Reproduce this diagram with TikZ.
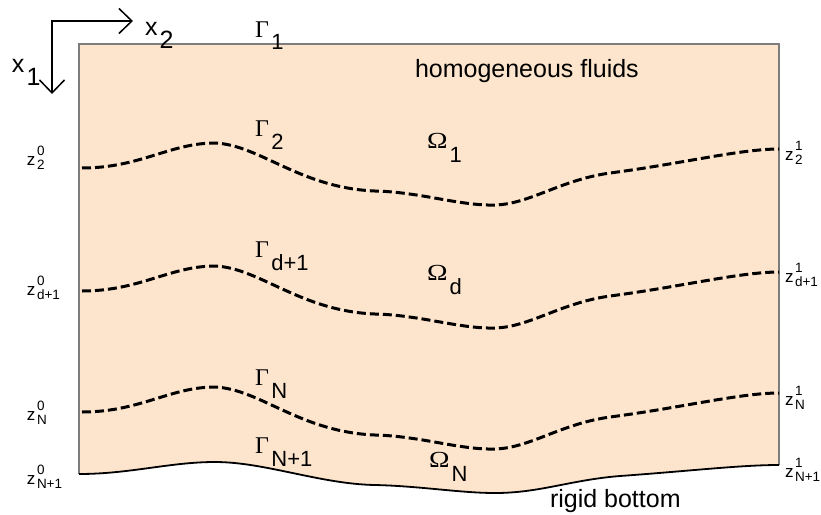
\documentclass[tikz,border=0pt]{standalone}
\usepackage{fontspec}
\setmainfont{Liberation Sans}
\newfontfamily\grfont{Liberation Serif}
\usetikzlibrary{arrows.meta}
\definecolor{fluid}{RGB}{253,229,205}
\definecolor{edgegray}{RGB}{125,125,125}
\newcommand\fsz[1]{\fontsize{#1}{#1}\selectfont}
% Gamma / Omega with subscript
\newcommand\gam[1]{{\fsz{24}\grfont Γ}\hspace{2.5pt}\raisebox{-13pt}{\fsz{22}#1}}
\newcommand\om[1]{\scalebox{1.2}[1]{\fsz{23}\grfont Ω}\hspace{2pt}\raisebox{-14pt}{\fsz{22}#1}}
% z labels
\newcommand\zl[2]{\fsz{17}z\fsz{13.5}\hspace{1.5pt}\rlap{\raisebox{10pt}{#1}}\raisebox{-4.5pt}{#2}}
\begin{document}
\begin{tikzpicture}[x=1pt,y=-1pt,
  lab/.style={anchor=base west, inner sep=0pt, outer sep=0pt},
  iface/.style={line width=3pt, dash pattern=on 9pt off 4pt, black},
  edgeline/.style={draw=edgegray, line width=1.4pt},
  axisline/.style={line width=1.5pt, black, line join=miter,
     {Straight Barb[length=13pt,width=25pt]}-{Straight Barb[length=13pt,width=25pt]}}]
\useasboundingbox (0,0) rectangle (821,514);

% fluid domain
\fill[fluid] (79,44) -- (79,474)
  .. controls (130,474) and (170,462) .. (215,462)
  .. controls (265,462) and (320,484) .. (375,485)
  .. controls (420,486) and (460,493) .. (495,493)
  .. controls (540,493) and (570,480) .. (620,476)
  .. controls (690,471) and (740,465) .. (779,465)
  -- (779,44) -- cycle;
\draw[edgeline] (79,474) -- (79,44) -- (779,44) -- (779,465);
\draw[line width=1.8pt] (79,474)
  .. controls (130,474) and (170,462) .. (215,462)
  .. controls (265,462) and (320,484) .. (375,485)
  .. controls (420,486) and (460,493) .. (495,493)
  .. controls (540,493) and (570,480) .. (620,476)
  .. controls (690,471) and (740,465) .. (779,465);

% interfaces
\foreach \dy in {0,123,244}{
\begin{scope}[yshift=-\dy pt]
\draw[iface] (82,168)
  .. controls (140,168) and (170,143) .. (215,143)
  .. controls (260,145) and (300,188) .. (375,191)
  .. controls (420,192) and (460,206) .. (495,205)
  .. controls (530,204) and (560,180) .. (610,173)
  .. controls (680,164) and (740,149) .. (779,149);
\end{scope}}

% axes
\coordinate (x1end) at (52,94);
\coordinate (orig) at (52,21);
\coordinate (x2end) at (133,21);
\draw[axisline] (x1end) -- (orig) -- (x2end);
\node[lab] (x2) at (145,35) {\fsz{25}x\hspace{2pt}\raisebox{-13pt}{2}};
\node[lab] (x1) at (12,72) {\fsz{25}x\hspace{2pt}\raisebox{-13pt}{1}};

% texts
\node[lab] (hom) at (415,77) {\fsz{25}homogeneous fluids};
\node[lab] (rig) at (550,507) {\fsz{25}rigid bottom};

\node[lab] (g1) at (255,37) {\gam{1}};
\node[lab] (g2) at (255,136) {\gam{2}};
\node[lab] (gd) at (255,257) {\gam{d+1}};
\node[lab] (gN) at (255,385) {\gam{N}};
\node[lab] (gN1) at (255,453) {\gam{N+1}};

\node[lab] (o1) at (427,148) {\om{1}};
\node[lab] (od) at (427,280) {\om{d}};
\node[lab] (oN) at (429,467) {\om{N}};

% left z labels
\node[lab] (zl2) at (27,165) {\zl{0}{2}};
\node[lab] (zld) at (27,295) {\zl{0}{d+1}};
\node[lab] (zlN) at (27,420) {\zl{0}{N}};
\node[lab] (zlN1) at (27,484) {\zl{0}{N+1}};
% right z labels
\node[lab] (zr2) at (785,160) {\zl{1}{2}};
\node[lab] (zrd) at (785,282) {\zl{1}{d+1}};
\node[lab] (zrN) at (785,405) {\zl{1}{N}};
\node[lab] (zrN1) at (785,477) {\zl{1}{N+1}};
\end{tikzpicture}
\end{document}
